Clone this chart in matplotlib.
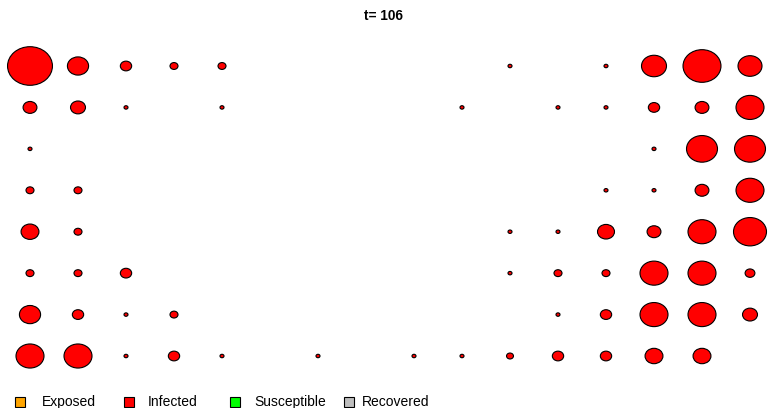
import numpy as np
import matplotlib
matplotlib.use("Agg")
import matplotlib.pyplot as plt
from matplotlib.patches import Ellipse

plt.rcParams['font.family'] = ['Liberation Sans', 'DejaVu Sans']

# infected counts per cell of the 8 x 16 grid (0 = no circle)
infected = np.array([
    [126, 28, 8, 4, 4, 0, 0, 0, 0, 0, 1, 0, 1, 39, 90, 36],
    [12, 14, 1, 0, 1, 0, 0, 0, 0, 1, 0, 1, 1, 8, 12, 49],
    [1, 0, 0, 0, 0, 0, 0, 0, 0, 0, 0, 0, 0, 1, 60, 60],
    [4, 4, 0, 0, 0, 0, 0, 0, 0, 0, 0, 0, 1, 1, 12, 49],
    [20, 4, 0, 0, 0, 0, 0, 0, 0, 0, 1, 1, 18, 12, 49, 68],
    [4, 4, 8, 0, 0, 0, 0, 0, 0, 0, 1, 4, 4, 49, 49, 6],
    [28, 8, 1, 4, 0, 0, 0, 0, 0, 0, 0, 1, 8, 49, 49, 14],
    [49, 49, 1, 8, 1, 0, 1, 0, 1, 1, 3, 8, 8, 20, 20, 0],
])
title = "t= 106"
legend_labels = ["Exposed", "Infected", "Susceptible", "Recovered"]
legend_colors = ["orange", "red", "#00ff00", "#bebebe"]

fig = plt.figure(figsize=(7.68, 4.08), dpi=100)
ax = fig.add_axes([0, 0, 1, 1])
ax.set_xlim(-0.625, 15.375)
ax.set_ylim(8.255, -1.593)
ax.axis("off")

px_x = 48.0   # pixels per column
px_y = 41.43  # pixels per row
rows, cols = np.nonzero(infected)
for r, c in zip(rows, cols):
    d = 4.0 * np.sqrt(infected[r, c])  # diameter in pixels
    ax.add_patch(Ellipse((c, r), d / px_x, 0.86 * d / px_y,
                         facecolor="red", edgecolor="black", linewidth=0.8))

fig.text(0.5, 1 - 16 / 408, title, ha="center", va="center",
         fontsize=9.8, fontweight="bold")

leg_x = [20, 129, 235, 349]
txt_x = [42, 148, 254, 362]
ly = 1 - 402 / 408
for lx, tx, lab, col in zip(leg_x, txt_x, legend_labels, legend_colors):
    fig.add_artist(plt.Line2D([lx / 768], [ly], marker="s", markersize=6.5,
                              markerfacecolor=col, markeredgecolor="black",
                              markeredgewidth=0.8, linestyle="none"))
    fig.text(tx / 768, ly, lab, ha="left", va="center", fontsize=10)

fig.savefig("out.png", dpi=100)
